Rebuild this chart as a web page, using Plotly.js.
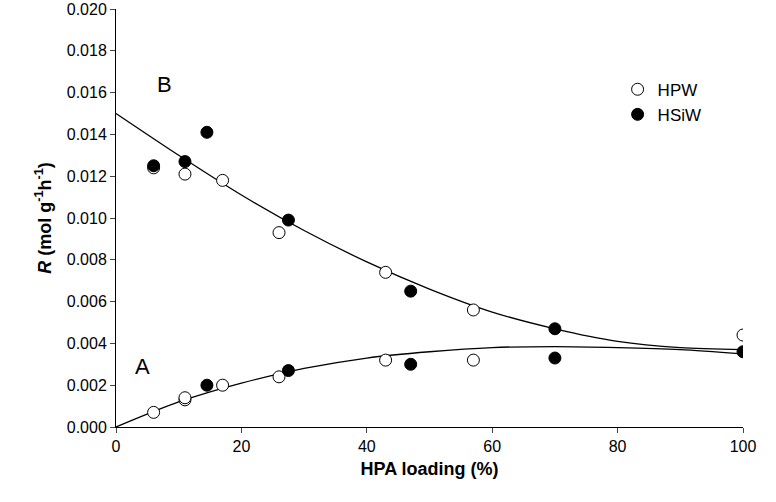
<!DOCTYPE html><html><head><script src="https://cdn.plot.ly/plotly-3.0.1.min.js"></script></head><body style="margin:0"><div id="c" style="width:776px;height:502px"></div><script>
const hpwX=[6,11,17,26,43,57,100,6,11,11,17,26,43,57];
const hpwY=[0.0124,0.0121,0.0118,0.0093,0.0074,0.0056,0.0044,0.0007,0.0013,0.0014,0.0020,0.0024,0.0032,0.0032];
const hsiwX=[6,11,14.5,27.5,47,70,100,14.5,27.5,47,70];
const hsiwY=[0.0125,0.0127,0.0141,0.0099,0.0065,0.0047,0.0036,0.0020,0.0027,0.0030,0.0033];
const curveX=[0,10,20,30,40,50,60,70,80,90,100];
const curveB=[0.0150,0.0130,0.0111,0.0094,0.0079,0.0066,0.0055,0.0047,0.0041,0.0038,0.0037];
const curveA=[0,0.0012,0.0021,0.0028,0.0033,0.0036,0.0038,0.00385,0.0038,0.0037,0.0035];
const ln={color:'black',width:1.3,shape:'spline',smoothing:0.8};
Plotly.newPlot('c',[
{x:curveX,y:curveB,mode:'lines',line:ln,showlegend:false,hoverinfo:'skip'},
{x:curveX,y:curveA,mode:'lines',line:ln,showlegend:false,hoverinfo:'skip'},
{x:hpwX,y:hpwY,mode:'markers',name:'HPW',marker:{size:12,color:'white',line:{color:'black',width:1}}},
{x:hsiwX,y:hsiwY,mode:'markers',name:'HSiW',marker:{size:12,color:'black',line:{color:'black',width:1}}}
],{
margin:{l:116,r:33,t:9,b:75},paper_bgcolor:'white',plot_bgcolor:'white',
font:{family:'Liberation Sans, Arial',size:16,color:'black'},
xaxis:{range:[0,100],dtick:20,showgrid:false,zeroline:false,showline:true,linecolor:'black',ticks:'outside',ticklen:5,
 title:{text:'<b>HPA loading (%)</b>',font:{size:18},standoff:8}},
yaxis:{range:[0,0.02],dtick:0.002,tickformat:'.3f',showgrid:false,zeroline:false,showline:true,linecolor:'black',ticks:'outside',ticklen:5,
 title:{text:'<b><i>R</i> (mol g<sup>-1</sup>h<sup>-1</sup>)</b>',font:{size:18},standoff:10}},
legend:{x:0.8,y:0.85,font:{size:17},bgcolor:'rgba(0,0,0,0)'},
annotations:[{x:7.8,y:0.0164,text:'B',showarrow:false,font:{size:22}},{x:4.3,y:0.0029,text:'A',showarrow:false,font:{size:22}}]
},{displayModeBar:false});
</script></body></html>
